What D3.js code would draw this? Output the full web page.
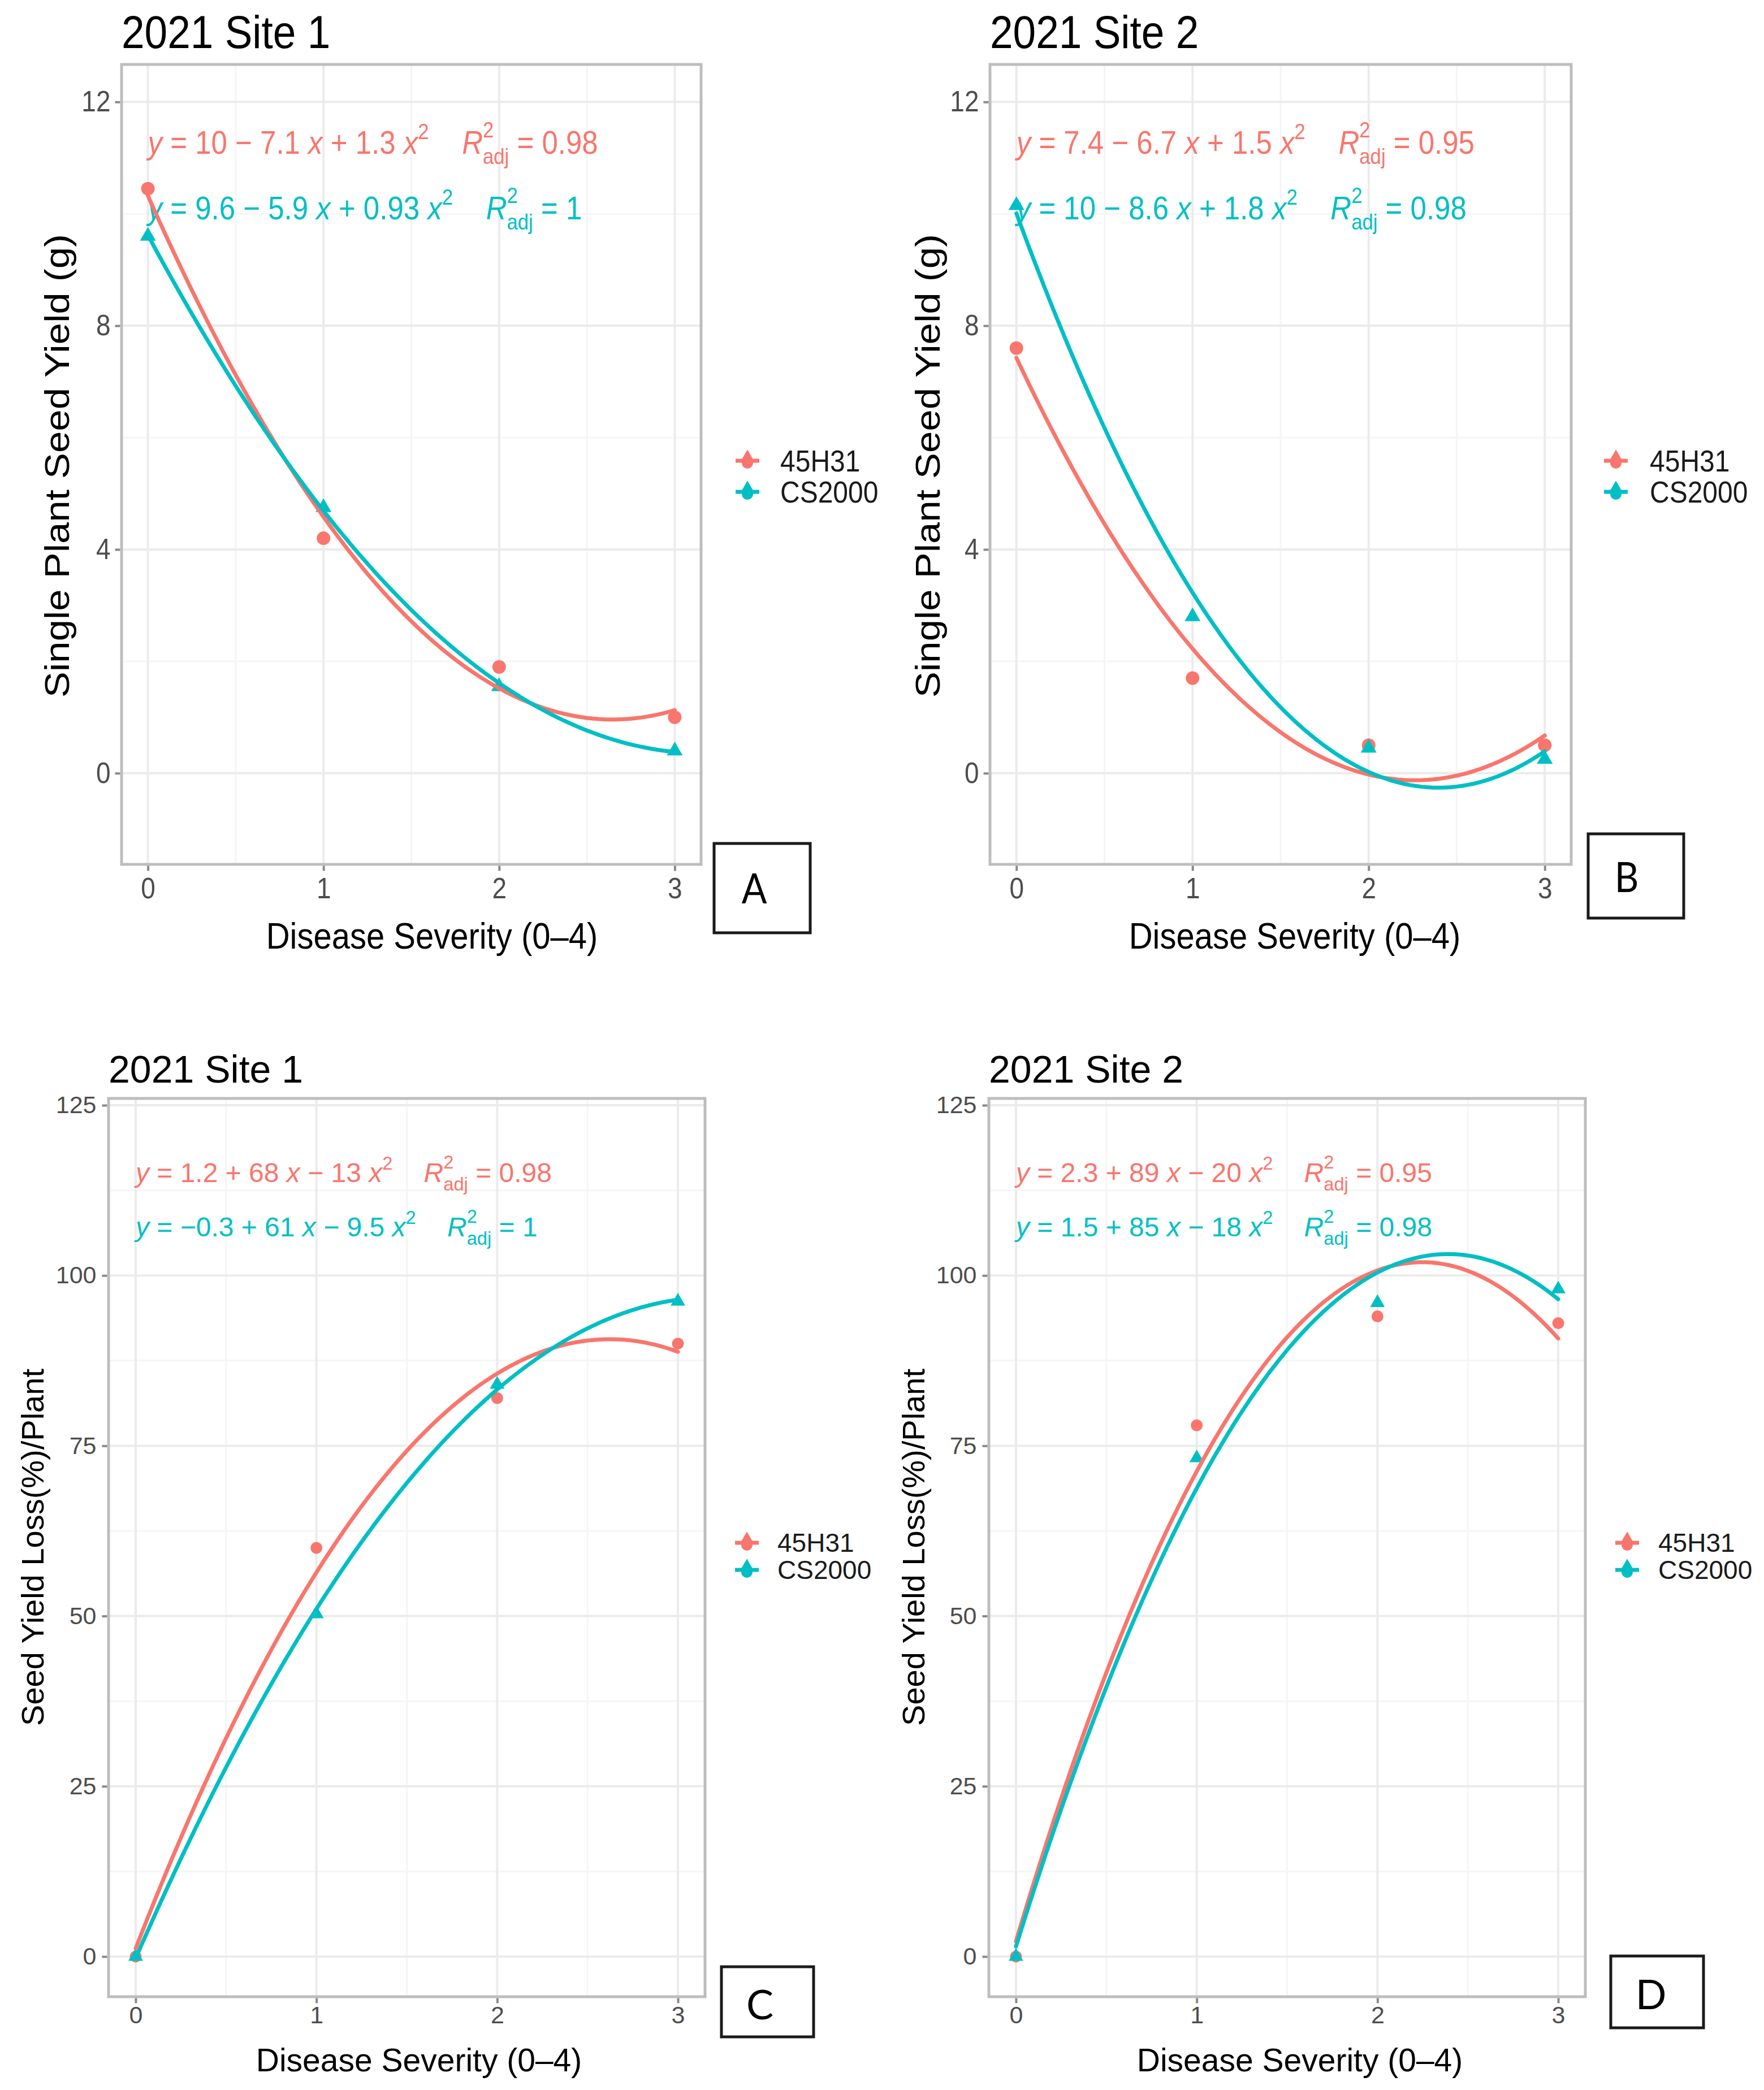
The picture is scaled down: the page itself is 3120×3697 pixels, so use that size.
<!DOCTYPE html>
<html>
<head>
<meta charset="utf-8">
<script src="https://cdn.jsdelivr.net/npm/d3@7"></script>
<style>
  body { margin: 0; background: #fff; }
  svg { display: block; }
  text { font-family: "Liberation Sans", Arial, sans-serif; }
</style>
</head>
<body>
<svg id="chart"></svg>
<script>
// ---- data ----
const severity = [0, 1, 2, 3];
const cultivars = ["45H31", "CS2000"];

const yieldSite1_45H31 = [10.45, 4.2, 1.9, 1.0];
const yieldSite1_CS2000 = [9.6, 4.75, 1.55, 0.4];
const yieldSite2_45H31 = [7.6, 1.7, 0.5, 0.5];
const yieldSite2_CS2000 = [10.15, 2.8, 0.45, 0.25];

const lossSite1_45H31 = [0, 60, 82, 90];
const lossSite1_CS2000 = [0, 50.3, 84, 96.2];
const lossSite2_45H31 = [0, 78, 94, 93];
const lossSite2_CS2000 = [0, 73.2, 96, 98];

const severityTicks = [0, 1, 2, 3];
const severityMinor = [0.5, 1.5, 2.5];
const yieldTicks = [0, 4, 8, 12];
const yieldMinor = [2, 6, 10];
const lossTicks = [0, 25, 50, 75, 100, 125];
const lossMinor = [12.5, 37.5, 62.5, 87.5, 112.5];

// equation labels: [intercept & linear term, quadratic term, adj R2]
const eqYieldSite1 = [["10 − 7.1", "+ 1.3", "0.98"], ["9.6 − 5.9", "+ 0.93", "1"]];
const eqYieldSite2 = [["7.4 − 6.7", "+ 1.5", "0.95"], ["10 − 8.6", "+ 1.8", "0.98"]];
const eqLossSite1 = [["1.2 + 68", "− 13", "0.98"], ["−0.3 + 61", "− 9.5", "1"]];
const eqLossSite2 = [["2.3 + 89", "− 20", "0.95"], ["1.5 + 85", "− 18", "0.98"]];

const colors = ["#F8766D", "#00BFC4"];

// ---- layout ----
const topFont = { title: 73, tick: 46, eq: 51, axis: 58, yAxis: 61, legend: 48, tag: 66 };
const botFont = { title: 68, tick: 43, eq: 48, axis: 57, yAxis: 56, legend: 46, tag: 72 };

const panels = [
  { tag: "A", title: "2021 Site 1", yTitle: "Single Plant Seed Yield (g)",
    series: [yieldSite1_45H31, yieldSite1_CS2000], eq: eqYieldSite1,
    yTicks: yieldTicks, yMinor: yieldMinor, yDomain: [-1.63, 12.67],
    box: [215, 114, 1240, 1529], sy: 1.13, font: topFont,
    titlePos: [215, 85], xTitlePos: [764, 1678], yTitlePos: [122, 824], eqY: [272, 388],
    legend: { g: 1322, t: 1380, rows: [815, 870] },
    tagBox: [1263, 1492, 1433, 1650], tagPos: [1334, 1598], pad: [9, 8], pt: [12, 340] },
  { tag: "B", title: "2021 Site 2", yTitle: "Single Plant Seed Yield (g)",
    series: [yieldSite2_45H31, yieldSite2_CS2000], eq: eqYieldSite2,
    yTicks: yieldTicks, yMinor: yieldMinor, yDomain: [-1.63, 12.67],
    box: [1751, 114, 2779, 1529], sy: 1.13, font: topFont,
    titlePos: [1751, 85], xTitlePos: [2290, 1678], yTitlePos: [1662, 824], eqY: [272, 388],
    legend: { g: 2858, t: 2918, rows: [815, 870] },
    tagBox: [2809, 1475, 2978, 1624], tagPos: [2877, 1578], pad: [9, 8], pt: [12, 340] },
  { tag: "C", title: "2021 Site 1", yTitle: "Seed Yield Loss(%)/Plant",
    series: [lossSite1_45H31, lossSite1_CS2000], eq: eqLossSite1,
    yTicks: lossTicks, yMinor: lossMinor, yDomain: [-5.9, 126],
    box: [192, 1943, 1247, 3532], sy: 1, font: botFont,
    titlePos: [192, 1915], xTitlePos: [741, 3664], yTitlePos: [77, 2737], eqY: [2091, 2187],
    legend: { g: 1321, t: 1375, rows: [2729, 2777] },
    tagBox: [1276, 3479, 1439, 3603], tagPos: [1344, 3572], pad: [5, 10], pt: [10.5, 290] },
  { tag: "D", title: "2021 Site 2", yTitle: "Seed Yield Loss(%)/Plant",
    series: [lossSite2_45H31, lossSite2_CS2000], eq: eqLossSite2,
    yTicks: lossTicks, yMinor: lossMinor, yDomain: [-5.9, 126],
    box: [1749, 1943, 2804, 3532], sy: 1, font: botFont,
    titlePos: [1749, 1915], xTitlePos: [2299, 3664], yTitlePos: [1635, 2737], eqY: [2091, 2187],
    legend: { g: 2878, t: 2933, rows: [2729, 2777] },
    tagBox: [2849, 3460, 3013, 3587], tagPos: [2920, 3554], pad: [5, 10], pt: [10.5, 290] }
];

// least squares fit y = c0 + c1 x + c2 x^2 (what geom_smooth drew)
function quadFit(xs, ys) {
  const S = k => d3.sum(xs, v => v ** k);
  const T = k => d3.sum(xs, (v, i) => v ** k * ys[i]);
  const m = [[S(0), S(1), S(2), T(0)], [S(1), S(2), S(3), T(1)], [S(2), S(3), S(4), T(2)]];
  for (let i = 0; i < 3; i++) {
    for (let r = 0; r < 3; r++) {
      if (r === i) continue;
      const f = m[r][i] / m[i][i];
      for (let c = i; c < 4; c++) m[r][c] -= f * m[i][c];
    }
  }
  return [m[0][3] / m[0][0], m[1][3] / m[1][1], m[2][3] / m[2][2]];
}

const svg = d3.select("#chart").attr("width", 3120).attr("height", 3697);
svg.append("rect").attr("width", 3120).attr("height", 3697).attr("fill", "#fff");

function label(g, x, y, str, size, sy, opts = {}) {
  return g.append("text")
    .attr("transform", `translate(${x},${y}) scale(1,${sy})` + (opts.rotate ? " rotate(-90)" : ""))
    .attr("font-size", size)
    .attr("text-anchor", opts.anchor || "start")
    .attr("fill", opts.fill || "#000")
    .style("font-family", opts.family || null)
    .text(str);
}

function drawEq(g, x0, y0, parts, f, sy, color) {
  const t = g.append("text")
    .attr("transform", `translate(${x0},${y0}) scale(1,${sy})`)
    .attr("fill", color)
    .attr("font-size", f)
    .style("white-space", "pre");
  const span = (s, o = {}) => {
    const ts = t.append("tspan").text(s).attr("y", o.y || 0);
    if (o.it) ts.attr("font-style", "italic");
    if (o.fs) ts.attr("font-size", o.fs);
    if (o.dx) ts.attr("dx", o.dx);
    return ts;
  };
  span("y", { it: true });
  span(` = ${parts[0]} `);
  span("x", { it: true });
  span(` ${parts[1]} `);
  span("x", { it: true });
  span("2", { fs: 0.68 * f, y: -0.45 * f });
  span("R", { it: true, dx: 1.15 * f });
  const two = span("2", { fs: 0.68 * f, y: -0.5 * f });
  const w = two.node().getComputedTextLength();
  span("adj", { fs: 0.68 * f, y: 0.32 * f, dx: -w });
  span(` = ${parts[2]}`);
}

panels.forEach(p => {
  const g = svg.append("g");
  const [bx0, by0, bx1, by1] = p.box;
  const x = d3.scaleLinear().domain([-0.15, 3.15]).range([bx0, bx1]);
  const y = d3.scaleLinear().domain(p.yDomain).range([by1, by0]);

  // grid
  g.selectAll(".minor-y").data(p.yMinor).join("line")
    .attr("x1", bx0).attr("x2", bx1).attr("y1", d => y(d)).attr("y2", d => y(d))
    .attr("stroke", "#F5F5F5").attr("stroke-width", 3);
  g.selectAll(".minor-x").data(severityMinor).join("line")
    .attr("y1", by0).attr("y2", by1).attr("x1", d => x(d)).attr("x2", d => x(d))
    .attr("stroke", "#F5F5F5").attr("stroke-width", 3);
  g.selectAll(".major-y").data(p.yTicks).join("line")
    .attr("x1", bx0).attr("x2", bx1).attr("y1", d => y(d)).attr("y2", d => y(d))
    .attr("stroke", "#EBEBEB").attr("stroke-width", 4);
  g.selectAll(".major-x").data(severityTicks).join("line")
    .attr("y1", by0).attr("y2", by1).attr("x1", d => x(d)).attr("x2", d => x(d))
    .attr("stroke", "#EBEBEB").attr("stroke-width", 4);

  // equations
  p.eq.forEach((e, i) => drawEq(g, x(0), p.eqY[i], e, p.font.eq, p.sy, colors[i]));

  // points
  p.series.forEach((vals, i) => {
    const pts = severity.map((s, j) => [s, vals[j]]);
    if (i === 0) {
      g.append("g").selectAll("circle").data(pts).join("circle")
        .attr("cx", d => x(d[0])).attr("cy", d => y(d[1])).attr("r", p.pt[0])
        .attr("fill", colors[i]);
    } else {
      g.append("g").selectAll("path").data(pts).join("path")
        .attr("transform", d => `translate(${x(d[0])},${y(d[1])})`)
        .attr("d", d3.symbol(d3.symbolTriangle, p.pt[1]))
        .attr("fill", colors[i]);
    }
  });

  // fitted quadratic curves
  const [lo, hi] = d3.extent(severity);
  const xs = d3.range(lo, hi + 1e-9, (hi - lo) / 90);
  const line = d3.line().x(d => x(d[0])).y(d => y(d[1]));
  p.series.forEach((vals, i) => {
    const c = quadFit(severity, vals);
    g.append("path")
      .datum(xs.map(v => [v, c[0] + c[1] * v + c[2] * v * v]))
      .attr("fill", "none").attr("stroke", colors[i]).attr("stroke-width", 7)
      .attr("stroke-linecap", "round")
      .attr("d", line);
  });

  // panel border
  g.append("rect").attr("x", bx0).attr("y", by0).attr("width", bx1 - bx0).attr("height", by1 - by0)
    .attr("fill", "none").attr("stroke", "#BDBDBD").attr("stroke-width", 5);

  // axes
  const yAxis = g.append("g").attr("transform", `translate(${bx0 - 2.5},0)`)
    .call(d3.axisLeft(y).tickValues(p.yTicks).tickSize(9).tickPadding(p.pad[1]).tickFormat(d3.format("d")));
  const xAxis = g.append("g").attr("transform", `translate(0,${by1 + 2.5})`)
    .call(d3.axisBottom(x).tickValues(severityTicks).tickSize(9).tickPadding(p.pad[0]).tickFormat(d3.format("d")));
  [yAxis, xAxis].forEach(a => {
    a.select(".domain").remove();
    a.attr("font-family", "Liberation Sans, Arial, sans-serif").attr("font-size", p.font.tick);
    a.selectAll(".tick line").attr("stroke", "#8A8A8A").attr("stroke-width", 4);
    a.selectAll(".tick text").attr("fill", "#4D4D4D").attr("transform", `scale(1,${p.sy})`);
  });

  // titles
  label(g, p.titlePos[0], p.titlePos[1], p.title, p.font.title, p.sy, { fill: "#000" });
  label(g, p.xTitlePos[0], p.xTitlePos[1], "Disease Severity (0–4)", p.font.axis, p.sy, { anchor: "middle" });
  label(g, p.yTitlePos[0], p.yTitlePos[1], p.yTitle, p.font.yAxis, p.sy, { anchor: "middle", rotate: true });

  // legend
  cultivars.forEach((name, i) => {
    const ly = p.legend.rows[i];
    const lg = g.append("g").attr("transform", `translate(${p.legend.g},${ly})`);
    lg.append("line").attr("x1", -21).attr("x2", 21).attr("stroke", colors[i]).attr("stroke-width", 7);
    lg.append("path").attr("transform", "translate(0,-5)")
      .attr("d", d3.symbol(d3.symbolTriangle, 280)).attr("fill", colors[i]);
    lg.append("circle").attr("cy", 4).attr("r", 10).attr("fill", colors[i]);
    label(g, p.legend.t, ly + 0.358 * p.font.legend * p.sy, name, p.font.legend, p.sy, { fill: "#1A1A1A" });
  });

  // panel tag
  const [tx0, ty0, tx1, ty1] = p.tagBox;
  g.append("rect").attr("x", tx0).attr("y", ty0).attr("width", tx1 - tx0).attr("height", ty1 - ty0)
    .attr("fill", "#fff").attr("stroke", "#1A1A1A").attr("stroke-width", 5);
  label(g, p.tagPos[0], p.tagPos[1], p.tag, p.font.tag, p.sy,
    { anchor: "middle", family: "Lato, 'Open Sans', sans-serif" });
});
</script>
</body>
</html>
